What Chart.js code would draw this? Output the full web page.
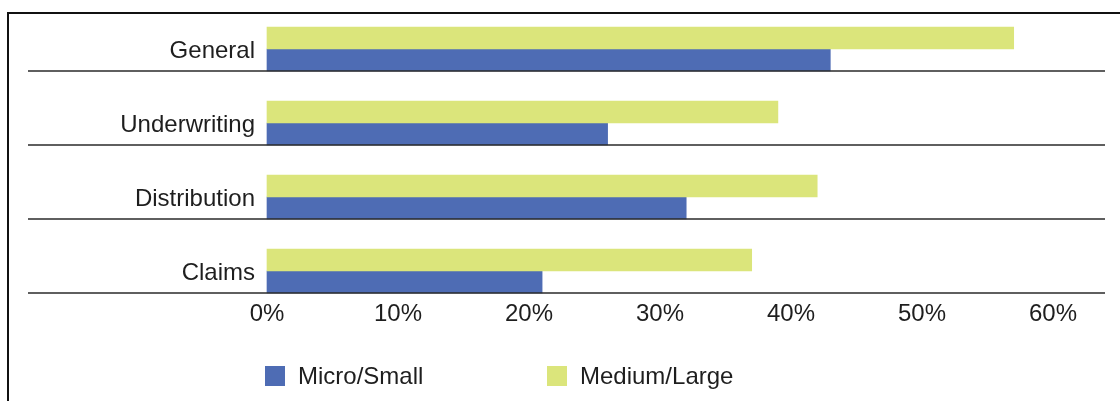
<!DOCTYPE html>
<html>
<head>
<meta charset="utf-8">
<script src="https://cdn.jsdelivr.net/npm/chart.js@4/dist/chart.umd.min.js"></script>
<style>
  html, body { margin: 0; padding: 0; background: #fff; }
  #wrap { position: relative; width: 1120px; height: 401px; overflow: hidden; }
  /* frame: top and left rule only */
  #frame { position: absolute; left: 7px; top: 12px; right: 0; bottom: 0;
           border-top: 2px solid #111; border-left: 2px solid #111; }
  #chart { position: absolute; left: 0; top: 0; }
  #legend { position: absolute; left: 265px; top: 364px; margin: 0; padding: 0;
            list-style: none; display: flex;
            font: 24px "Liberation Sans", Arial, sans-serif; color: #1e1e1e; }
  #legend li { width: 282px; display: flex; align-items: center; height: 24px; }
  #legend li span { display: inline-block; width: 20px; height: 20px; margin-right: 13px; }
</style>
</head>
<body>
<div id="wrap">
  <div id="frame"></div>
  <canvas id="chart" width="1120" height="401"></canvas>
  <ul id="legend"></ul>
</div>
<script>
var categories = ['General', 'Underwriting', 'Distribution', 'Claims'];
var microSmall = [43, 26, 32, 21];
var mediumLarge = [57, 39, 42, 37];
var xTicks = [0, 10, 20, 30, 40, 50, 60];

var BLUE = '#4e6cb4';
var GREEN = '#dbe57b';
var FONT = { family: '"Liberation Sans", Arial, sans-serif', size: 24 };

// horizontal rules under each pair of bars
var ruleLines = {
    id: 'ruleLines',
    afterDatasetsDraw: function(chart) {
        var meta = chart.getDatasetMeta(1);
        var ctx = chart.ctx;
        ctx.save();
        ctx.strokeStyle = '#2a2a2a';
        ctx.lineWidth = 1.4;
        meta.data.forEach(function(bar) {
            var y = bar.y + bar.height / 2;
            ctx.beginPath();
            ctx.moveTo(28, y);
            ctx.lineTo(1105, y);
            ctx.stroke();
        });
        ctx.restore();
    }
};

var chart = new Chart(document.getElementById('chart'), {
    type: 'bar',
    data: {
        labels: categories,
        datasets: [{
            label: 'Medium/Large',
            data: mediumLarge,
            backgroundColor: GREEN,
            clip: false
        }, {
            label: 'Micro/Small',
            data: microSmall,
            backgroundColor: BLUE,
            clip: false
        }]
    },
    options: {
        indexAxis: 'y',
        responsive: false,
        animation: false,
        barThickness: 22,
        layout: { padding: { top: 49, right: 67, left: 0, bottom: 0 } },
        plugins: {
            legend: { display: false },
            tooltip: { enabled: false }
        },
        scales: {
            x: {
                min: 0,
                max: 60,
                afterFit: function(scale) {
                    scale.height = 130;
                    scale.paddingLeft = 0;
                    scale.paddingRight = 0;
                },
                afterBuildTicks: function(scale) {
                    scale.ticks = xTicks.map(function(v) { return { value: v }; });
                },
                grid: { display: false, drawTicks: false },
                border: { display: false },
                ticks: {
                    padding: 29,
                    color: '#1e1e1e',
                    font: FONT,
                    callback: function(v) { return v + '%'; }
                }
            },
            y: {
                offset: false,
                afterFit: function(scale) {
                    scale.width = 267;
                    scale.paddingTop = 0;
                    scale.paddingBottom = 0;
                },
                grid: { display: false, drawTicks: false },
                border: { display: false },
                ticks: {
                    padding: 12,
                    labelOffset: 2,
                    color: '#1e1e1e',
                    font: FONT
                }
            }
        }
    },
    plugins: [ruleLines]
});

// legend, Micro/Small first
var legend = document.getElementById('legend');
chart.data.datasets.slice().reverse().forEach(function(ds) {
    var li = document.createElement('li');
    var box = document.createElement('span');
    box.style.background = ds.backgroundColor;
    li.appendChild(box);
    li.appendChild(document.createTextNode(ds.label));
    legend.appendChild(li);
});
</script>
</body>
</html>
